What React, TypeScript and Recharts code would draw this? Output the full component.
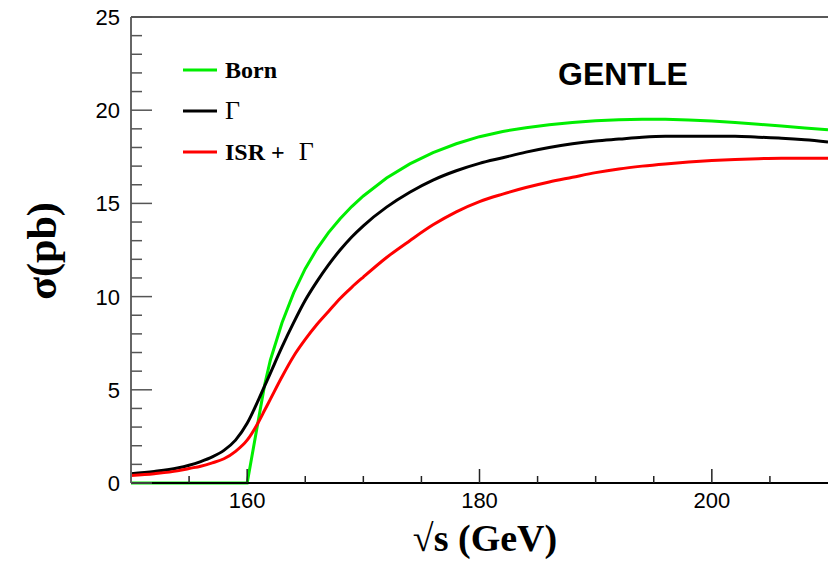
import React from "react";
import { LineChart, Line, XAxis, YAxis, ReferenceLine } from "recharts";

const energies = [150, 152, 154, 155, 156, 157, 158, 159, 160, 161, 161.5, 162, 163, 164, 165, 166, 167, 168, 169, 170, 172, 174, 176, 178, 180, 182, 184, 186, 188, 190, 192, 194, 196, 198, 200, 202, 204, 206, 208, 210];
const born = [0, 0, 0, 0, 0, 0, 0, 0, 0, 3.5, 5.25, 6.6, 8.6, 10.2, 11.5, 12.55, 13.43, 14.18, 14.83, 15.4, 16.36, 17.12, 17.72, 18.2, 18.58, 18.86, 19.06, 19.22, 19.34, 19.43, 19.49, 19.52, 19.52, 19.48, 19.42, 19.34, 19.25, 19.15, 19.05, 18.95];
const gamma = [0.5, 0.62, 0.8, 0.95, 1.15, 1.4, 1.75, 2.3, 3.2, 4.5, 5.2, 5.9, 7.3, 8.6, 9.8, 10.8, 11.7, 12.5, 13.2, 13.8, 14.8, 15.6, 16.25, 16.75, 17.15, 17.45, 17.75, 18.0, 18.2, 18.35, 18.45, 18.55, 18.6, 18.6, 18.6, 18.6, 18.55, 18.5, 18.42, 18.3];
const isrGamma = [0.4, 0.5, 0.65, 0.78, 0.9, 1.08, 1.3, 1.7, 2.3, 3.3, 3.9, 4.5, 5.7, 6.8, 7.7, 8.5, 9.2, 9.9, 10.5, 11.05, 12.1, 13.0, 13.85, 14.55, 15.1, 15.5, 15.85, 16.15, 16.4, 16.65, 16.85, 17.0, 17.12, 17.22, 17.3, 17.36, 17.4, 17.42, 17.42, 17.42];

const xTicks = [155, 160, 165, 170, 175, 180, 185, 190, 195, 200, 205];
const xLabelTicks = [160, 180, 200];
const yTicks = Array.from({ length: 26 }, (_, i) => i);
const yLabelEvery = 5;

const legendItems = [
  { label: "Born", extra: "", color: "#00ee00" },
  { label: "", extra: "Γ", color: "#000000" },
  { label: "ISR + ", extra: "Γ", color: "#ff0000" },
];

const data = energies.map((e, i) => ({ e, born: born[i], gamma: gamma[i], isr: isrGamma[i] }));

const SANS = "'Liberation Sans', Arial, Helvetica, sans-serif";
const SERIF = "'Liberation Serif', 'Times New Roman', serif";

const YTick = (props: any) => {
  const { x, y, payload } = props;
  const v = payload.value;
  const major = v % yLabelEvery === 0;
  const axisX = x + 11;
  return (
    <g>
      <line x1={axisX} x2={axisX + (major ? 21 : 11)} y1={y} y2={y} stroke="#555" strokeWidth={1.5} />
      {major && (
        <text x={x} y={y} dy={8} textAnchor="end" fontSize={22} fontFamily={SANS} fill="#000">
          {v}
        </text>
      )}
    </g>
  );
};

const XTick = (props: any) => {
  const { x, y, payload } = props;
  const v = payload.value;
  const major = xLabelTicks.includes(v);
  return (
    <g>
      <line x1={x} x2={x} y1={y} y2={y - (major ? 14 : 7)} stroke="#222" strokeWidth={1.5} />
      {major && (
        <text x={x} y={y} dy={25} textAnchor="middle" fontSize={22} fontFamily={SANS} fill="#000">
          {v}
        </text>
      )}
    </g>
  );
};

export default function App() {
  return (
    <div style={{ position: "absolute", left: 0, top: 0, width: 828, height: 563, background: "#fff" }}>
      <LineChart width={828} height={563} data={data} margin={{ top: 17, right: 0, bottom: 0, left: 0 }}>
        <XAxis
          dataKey="e"
          type="number"
          domain={[150, 210]}
          ticks={xTicks}
          interval={0}
          tickSize={0}
          tickMargin={0}
          tick={<XTick />}
          axisLine={{ stroke: "#000", strokeWidth: 2 }}
          height={80}
        />
        <YAxis
          type="number"
          domain={[0, 25]}
          ticks={yTicks}
          interval={0}
          tickSize={0}
          tickMargin={11}
          tick={<YTick />}
          axisLine={{ stroke: "#666", strokeWidth: 2 }}
          width={131}
        />
        <ReferenceLine y={25} stroke="#222" strokeWidth={1.5} />
        <Line type="linear" dataKey="born" stroke="#00ee00" strokeWidth={3} dot={false} isAnimationActive={false} />
        <Line type="monotone" dataKey="gamma" stroke="#000000" strokeWidth={3} dot={false} isAnimationActive={false} />
        <Line type="monotone" dataKey="isr" stroke="#ff0000" strokeWidth={3} dot={false} isAnimationActive={false} />
      </LineChart>
      <svg width={828} height={563} style={{ position: "absolute", left: 0, top: 0, pointerEvents: "none" }}>
        {legendItems.map((it, i) => {
          const y = 70 + i * 41;
          return (
            <g key={i}>
              <line x1={183} x2={217} y1={y} y2={y} stroke={it.color} strokeWidth={3} />
              <text x={225} y={y + 8} fontSize={24} fontFamily={SERIF} fontWeight="bold" fill="#000">
                {it.label}
                {it.extra && (
                  <tspan fontWeight="normal" fontSize={26} dx={it.label ? 8 : 0}>
                    {it.extra}
                  </tspan>
                )}
              </text>
            </g>
          );
        })}
        <text x={558} y={85} fontSize={32} fontFamily={SANS} fontWeight="bold" fill="#000">
          GENTLE
        </text>
        <text
          x={0}
          y={0}
          transform="translate(56,251) rotate(-90)"
          textAnchor="middle"
          fontSize={42}
          fontFamily={SERIF}
          fontWeight="bold"
          fill="#000"
        >
          σ(pb)
        </text>
        <text x={485} y={551} textAnchor="middle" fontSize={38} fontFamily={SERIF} fontWeight="bold" fill="#000">
          <tspan fontWeight="normal">√</tspan>s (GeV)
        </text>
      </svg>
    </div>
  );
}
